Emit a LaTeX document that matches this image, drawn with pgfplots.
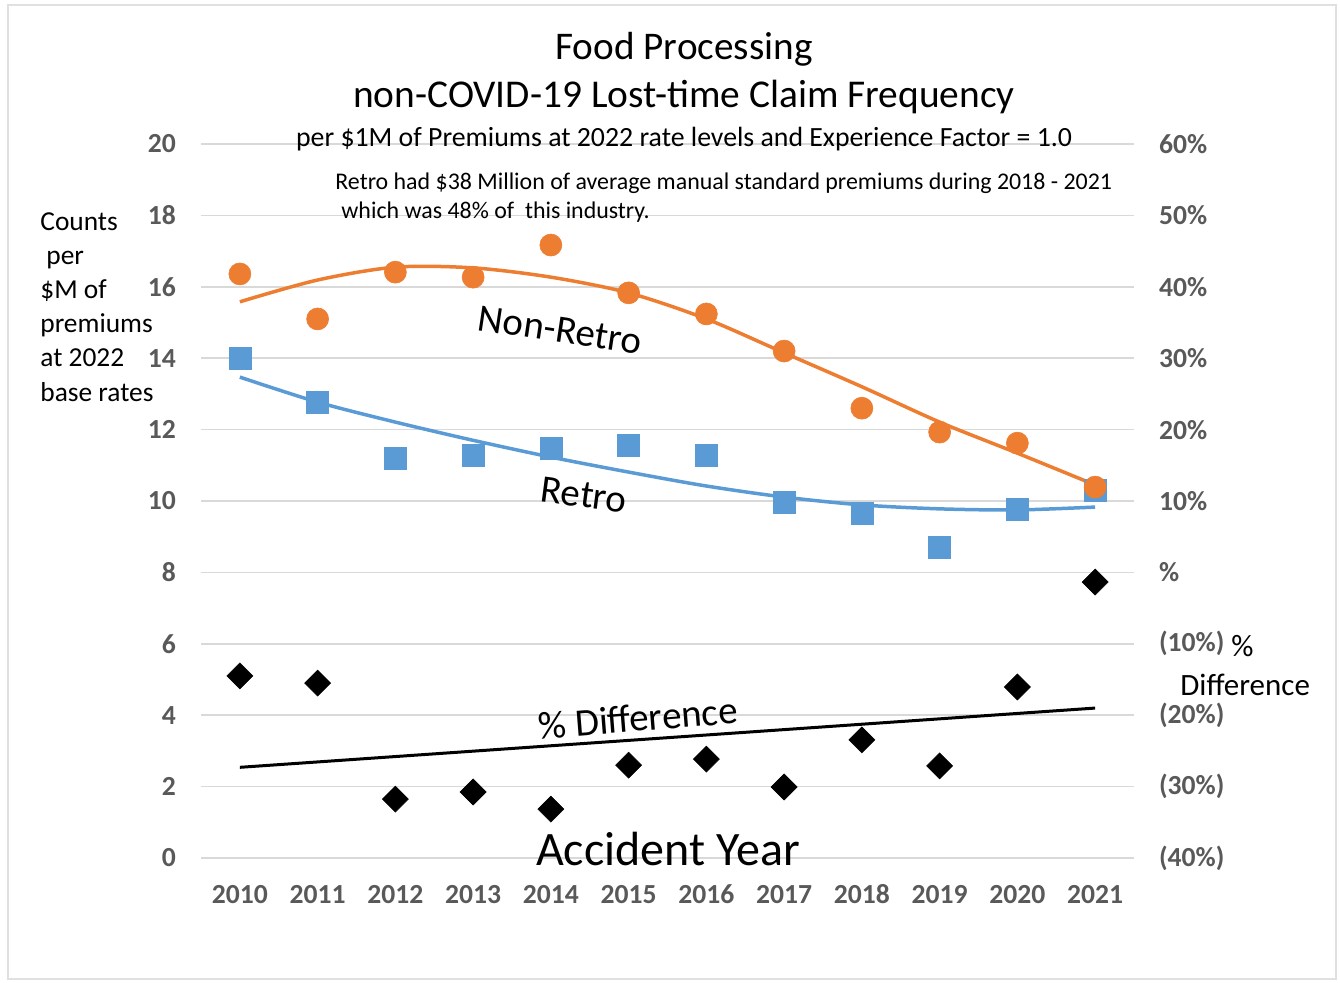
\documentclass[border=0pt]{standalone}
\usepackage{fontspec}
\setmainfont{Carlito}
\usepackage{pgfplots}
\pgfplotsset{compat=1.18}
\definecolor{cOrange}{HTML}{ED7D31}
\definecolor{cBlue}{HTML}{5B9BD5}
\definecolor{cGrid}{HTML}{D9D9D9}
\definecolor{cTick}{HTML}{595959}
\newcommand{\fs}[1]{\fontsize{#1}{#1}\selectfont}

\pgfplotstableread{
year nonretro retro
2010 16.36 14.00
2011 15.10 12.77
2012 16.41 11.20
2013 16.27 11.29
2014 17.17 11.48
2015 15.83 11.57
2016 15.24 11.29
2017 14.20  9.97
2018 12.60  9.66
2019 11.93  8.71
2020 11.62  9.78
2021 10.39 10.31
}\freq

\pgfplotstableread{
year nrtrend rtrend
2010 15.58 13.47
2011 16.19 12.77
2012 16.55 12.21
2013 16.53 11.70
2014 16.27 11.23
2015 15.83 10.81
2016 15.10 10.42
2017 14.15 10.11
2018 13.20  9.89
2019 12.21  9.78
2020 11.34  9.75
2021 10.45  9.83
}\trend

\pgfplotstableread{
year diff
2010 -14.5
2011 -15.5
2012 -31.75
2013 -30.75
2014 -33.15
2015 -27.0
2016 -26.15
2017 -30.05
2018 -23.45
2019 -27.1
2020 -16.05
2021 -1.35
}\pdiff

\begin{document}
\begin{tikzpicture}
\begin{scope}[x=0.5pt,y=-0.5pt,yshift=491pt]
\path (0,0) rectangle (1340,982);
\draw[black!12, line width=0.6pt] (8,5) rectangle (1336,979);
\end{scope}

\begin{axis}[
  at={(100.5pt,62pt)}, anchor=south west,
  scale only axis, width=466.5pt, height=357pt,
  xmin=2009.5, xmax=2021.5, ymin=0, ymax=20,
  axis line style={draw=none}, major tick length=0pt,
  ymajorgrids, grid style={cGrid, line width=0.75pt},
  xtick={2010,...,2021},
  xticklabels={2010,2011,2012,2013,2014,2015,2016,2017,2018,2019,2020,2021},
  ytick={0,2,...,20},
  yticklabels={0,2,4,6,8,10,12,14,16,18,20},
  tick label style={font=\bfseries\fs{13.8}, text=cTick},
  yticklabel style={anchor=east, xshift=-9pt},
  xticklabel style={anchor=base, yshift=-22.5pt},
  clip=false,
]
\addplot[no marks, cBlue, line width=1.75pt, smooth] table[x=year, y=rtrend] {\trend};
\addplot[no marks, cOrange, line width=1.75pt, smooth] table[x=year, y=nrtrend] {\trend};
\addplot[only marks, color=cBlue, mark=square*, mark size=5.5pt, mark options={draw=cBlue, fill=cBlue, line width=0.3pt}] table[x=year, y=retro] {\freq};
\addplot[only marks, color=cOrange, mark=*, mark size=5.5pt, mark options={draw=cOrange, fill=cOrange, line width=0.3pt}] table[x=year, y=nonretro] {\freq};
\end{axis}

\begin{axis}[
  at={(100.5pt,62pt)}, anchor=south west,
  scale only axis, width=466.5pt, height=357pt,
  xmin=2009.5, xmax=2021.5, ymin=-40, ymax=60,
  axis line style={draw=none}, major tick length=0pt,
  axis y line*=right, axis x line=none,
  xtick=\empty,
  ytick={-40,-30,...,60},
  yticklabels={(40\%),(30\%),(20\%),(10\%),\%,10\%,20\%,30\%,40\%,50\%,60\%},
  tick label style={font=\bfseries\fs{13.8}, text=cTick},
  yticklabel style={anchor=west, xshift=9pt},
  clip=false,
]
\addplot[no marks, black, line width=1.5pt] coordinates {(2010,-27.3) (2021,-19.0)};
\addplot[only marks, color=black, mark=diamond*, mark size=6.5pt, mark options={draw=black, fill=black, line width=0.3pt, xscale=1.333}] table[x=year, y=diff] {\pdiff};
\end{axis}

\begin{scope}[x=0.5pt,y=-0.5pt,yshift=491pt]
\node[font=\fs{19.6}] at (684,49) {Food Processing};
\node[font=\fs{19.7}] at (684,97) {non-COVID-19 Lost-time Claim Frequency};
\node[font=\fs{13.9}] at (684,139) {per \$1M of Premiums at 2022 rate levels and Experience Factor = 1.0};
\node[font=\fs{11.95}, anchor=west, inner sep=0pt] at (335,183) {Retro had \$38 Million of average manual standard premiums during 2018 - 2021};
\node[font=\fs{11.95}, anchor=west, inner sep=0pt] at (341,212) {which was 48\% of\ \ this industry.};
\foreach \t/\xx/\yy in {Counts/40/231, per/46/265, \$M of/40/299, premiums/40/333, at 2022/40/367, base rates/40/401}
  \node[font=\fs{13.7}, anchor=base west, inner sep=0pt] at (\xx,\yy) {\t};
\node[font=\fs{15.5}, anchor=base west, inner sep=0pt] at (1231,656) {\%};
\node[font=\fs{15.5}, anchor=base west, inner sep=0pt] at (1180,695) {Difference};
\node[font=\fs{19.5}, rotate=-8.5] at (560,330) {Non-Retro};
\node[font=\fs{19.5}, rotate=-7.5] at (584,495) {Retro};
\node[font=\fs{19.5}, rotate=4.5] at (638,718) {\% Difference};
\node[font=\fs{24}] at (668,849) {Accident Year};
\end{scope}
\end{tikzpicture}
\end{document}
